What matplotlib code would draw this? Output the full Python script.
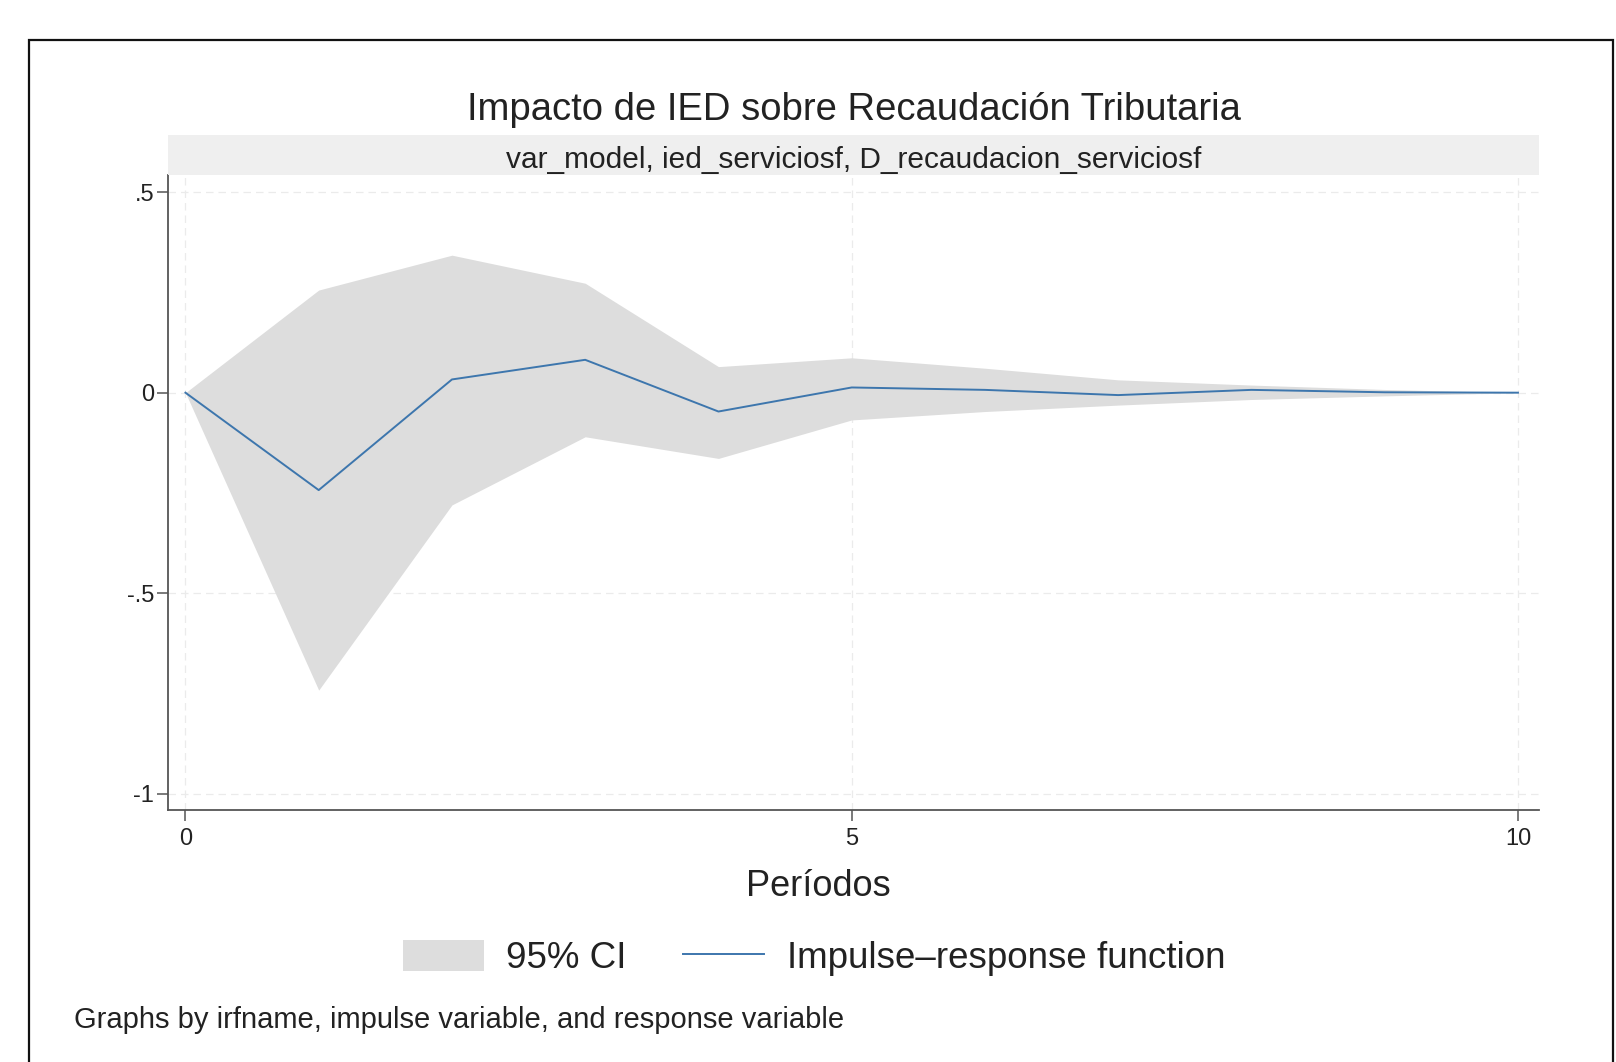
import matplotlib
matplotlib.use("Agg")
import matplotlib.pyplot as plt
from matplotlib.patches import Rectangle, Patch
from matplotlib.lines import Line2D

plt.rcParams['font.family'] = ['Liberation Sans', 'DejaVu Sans']

# data
periods = [0, 1, 2, 3, 4, 5, 6, 7, 8, 9, 10]
irf = [0, -0.243, 0.033, 0.082, -0.047, 0.013, 0.007, -0.006, 0.007, 0.001, 0.0]
ci_upper = [0, 0.256, 0.343, 0.273, 0.065, 0.087, 0.061, 0.032, 0.019, 0.008, 0.0]
ci_lower = [0, -0.742, -0.280, -0.110, -0.164, -0.068, -0.047, -0.031, -0.017, -0.008, 0.0]

yticks = [0.5, 0, -0.5, -1]
ytick_labels = ['.5', '0', '-.5', '-1']
xticks = [0, 5, 10]

title = 'Impacto de IED sobre Recaudación Tributaria'
strip_text = 'var_model, ied_serviciosf, D_recaudacion_serviciosf'
xlabel = 'Períodos'
note = 'Graphs by irfname, impulse variable, and response variable'

ci_color = '#dddddd'
line_color = '#3d76ad'
text_color = '#222222'

W, H = 1616, 1062
fig = plt.figure(figsize=(W / 100, H / 100), dpi=100)

# outer frame (bottom edge runs off the picture)
fig.patches.append(Rectangle((29 / W, -0.05), (1613 - 29) / W, 1.05 - 40 / H,
                             transform=fig.transFigure, fill=False,
                             edgecolor='#111111', linewidth=1.6))

ax_l, ax_r, ax_t, ax_b = 168, 1539, 175, 810
ax = fig.add_axes([ax_l / W, 1 - ax_b / H, (ax_r - ax_l) / W, (ax_b - ax_t) / H])

ax.fill_between(periods, ci_lower, ci_upper, color=ci_color, linewidth=0, zorder=1)
ax.plot(periods, irf, color=line_color, linewidth=1.4, zorder=3)

ax.set_xlim(-0.131, 10.158)
ax.set_ylim(-1.041, 0.543)
ax.set_xticks(xticks)
ax.set_yticks(yticks)
ax.set_yticklabels(ytick_labels)

for s in ['top', 'right']:
    ax.spines[s].set_visible(False)
for s in ['left', 'bottom']:
    ax.spines[s].set_color('#555555')
    ax.spines[s].set_linewidth(1.3)
ax.tick_params(axis='both', direction='out', length=8, width=1.1, color='#555555',
               labelsize=17, labelcolor=text_color, pad=2)
ax.tick_params(axis='x', pad=5)

ax.grid(True, linestyle=(0, (6, 4)), color='#ebebeb', linewidth=0.9, zorder=0)
ax.set_axisbelow(True)

# strip above plot area
fig.patches.append(Rectangle((ax_l / W, 1 - 175 / H), (ax_r - ax_l) / W, 40 / H,
                             transform=fig.transFigure, facecolor='#efefef',
                             edgecolor='none'))
fig.text((ax_l + ax_r) / 2 / W, 1 - 160 / H, strip_text, ha='center', va='center',
         fontsize=21.5, color=text_color)

fig.text((ax_l + ax_r) / 2 / W, 1 - 110 / H, title, ha='center', va='center',
         fontsize=27.5, color=text_color)

fig.text(818 / W, 1 - 887 / H, xlabel, ha='center', va='center',
         fontsize=26, color=text_color)

handles = [Patch(facecolor=ci_color, edgecolor='none'),
           Line2D([0], [0], color=line_color, linewidth=1.4)]
fig.legend(handles, ['95% CI', 'Impulse–response function'], loc='center',
           bbox_to_anchor=(814 / W, 1 - 958 / H), ncol=2, frameon=False,
           fontsize=26.5, handlelength=2.2, handleheight=0.95, handletextpad=0.6,
           columnspacing=1.55, labelcolor=text_color)

fig.text(74 / W, 1 - 1020 / H, note, ha='left', va='center',
         fontsize=21, color=text_color)

fig.savefig('out.png', dpi=100)
